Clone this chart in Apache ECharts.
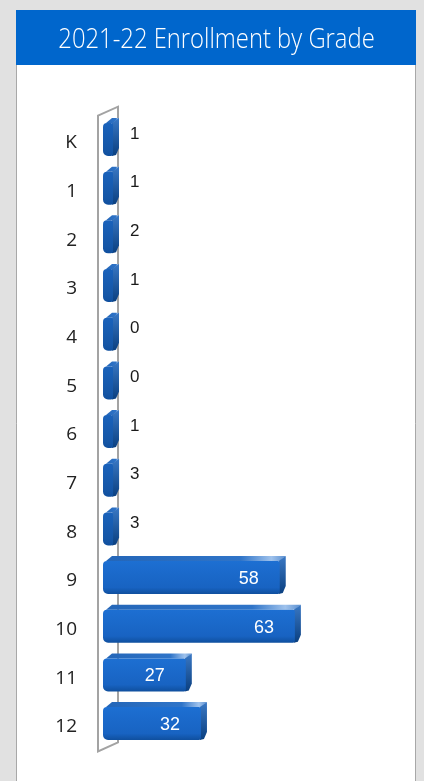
<!DOCTYPE html>
<html><head><meta charset="utf-8">
<script src="https://cdn.jsdelivr.net/npm/echarts@6/dist/echarts.min.js"></script>
<style>html,body{margin:0;padding:0;background:#e1e1e1;} #c{width:424px;height:781px;}</style>
</head><body><div id="c"></div>
<script>
const titleText = '2021-22 Enrollment by Grade';
const grades = ['K','1','2','3','4','5','6','7','8','9','10','11','12'];
const enrollment = [1,1,2,1,0,0,1,3,3,58,63,27,32];

const chart = echarts.init(document.getElementById('c'), null, {renderer:'canvas'});

function renderWall(params, api){
  const pTop = api.coord([0, 0]);
  const pBot = api.coord([0, grades.length-1]);
  const band = api.size([0, 1])[1];
  const xl = pTop[0] - 6, xr = xl + 20, dy = 9;
  const yt = pTop[1] - band/2 - 3, yb = pBot[1] + band/2;
  return {
    type:'polygon', z2: 0,
    shape:{points:[[xl,yt],[xr,yt-dy],[xr,yb-dy],[xl,yb]]},
    style:{fill:'#ffffff', stroke:'#a3a3a3', lineWidth:2}
  };
}

function renderBar(params, api){
  const idx = api.value(0), v = api.value(1);
  const p0 = api.coord([0, idx]), p1 = api.coord([v, idx]);
  const cy = p0[1];
  const x0 = p0[0] - 1;
  const x1 = Math.max(p1[0], x0 + 10);
  const top = cy - 20, bot = cy + 13, d = 6, dy = 5;
  const big = v >= 10;
  const children = [
    {type:'polygon', shape:{points:[[x0+3,top],[x0+3+d,top-dy],[x1+d,top-dy],[x1,top]]},
     style:{fill:new echarts.graphic.LinearGradient(0,0,1,0,[
       {offset:0,color:'#2466b8'},{offset:0.75,color:'#2f74c8'},{offset:0.92,color:'#9fc2ec'},{offset:1,color:'#5a8fd0'}])}},
    {type:'polygon', shape:{points:[[x1-1,top],[x1+d,top-dy],[x1+d,bot-dy-3],[x1+d-3,bot-1],[x1-1,bot]]},
     style:{fill:new echarts.graphic.LinearGradient(0,0,0,1,[
       {offset:0,color:'#3a78c4'},{offset:1,color:'#0a3f80'}])}},
    {type:'rect', shape:{x:x0, y:top, width:x1-x0, height:bot-top, r:[4,2,2,5]},
     style:{fill:new echarts.graphic.LinearGradient(0,0,0,1,[
       {offset:0,color: big ? '#1d6fd2' : '#1a62bb'},{offset:0.8,color: big ? '#1863c2':'#1556a6'},{offset:1,color:'#0f4f9e'}])}}
  ];
  if (big) {
    children.push({type:'text', style:{text:String(v), x:x1-31, y:cy-2, fill:'#ffffff',
      fontSize:18, fontFamily:'Liberation Sans, Arial, sans-serif', align:'center', verticalAlign:'middle'}});
  } else {
    children.push({type:'text', style:{text:String(v), x:x1+d+11, y:cy-9, fill:'#1a1a1a',
      fontSize:17, fontFamily:'Liberation Sans, Arial, sans-serif', align:'left', verticalAlign:'middle'}});
  }
  return {type:'group', children};
}

const barData = enrollment.map((v,i)=>[i, v]);

chart.setOption({
  backgroundColor:'#e1e1e1',
  animation:false,
  graphic:[
    {type:'rect', z:-10, shape:{x:16.5, y:64.5, width:399, height:730}, style:{fill:'#ffffff', stroke:'#a8a8a8', lineWidth:1}},
    {type:'rect', z:-9, shape:{x:16, y:10, width:400, height:55}, style:{fill:'#0066cc'}},
    {type:'text', z:-8, x:216.5, y:40, scaleX:0.85, style:{text:titleText, fill:'#ffffff', fontSize:28,
      fontFamily:'Open Sans, Noto Sans, sans-serif', fontWeight:300, align:'center', verticalAlign:'middle'}}
  ],
  grid:{left:104, right:17, top:118.7, height:632.7, containLabel:false},
  xAxis:{type:'value', min:0, max:100, show:false},
  yAxis:{type:'category', data:grades, inverse:true,
    axisLine:{show:false}, axisTick:{show:false},
    axisLabel:{margin:27, fontSize:19, color:'#222', padding:[3,0,0,0], fontFamily:'Open Sans, Noto Sans, sans-serif'}},
  series:[
    {type:'custom', renderItem:renderWall, data:[[0,0]], encode:{x:1,y:0}, z:1, silent:true},
    {type:'custom', renderItem:renderBar, data:barData, encode:{x:1,y:0}, z:2}
  ]
});
</script></body></html>
